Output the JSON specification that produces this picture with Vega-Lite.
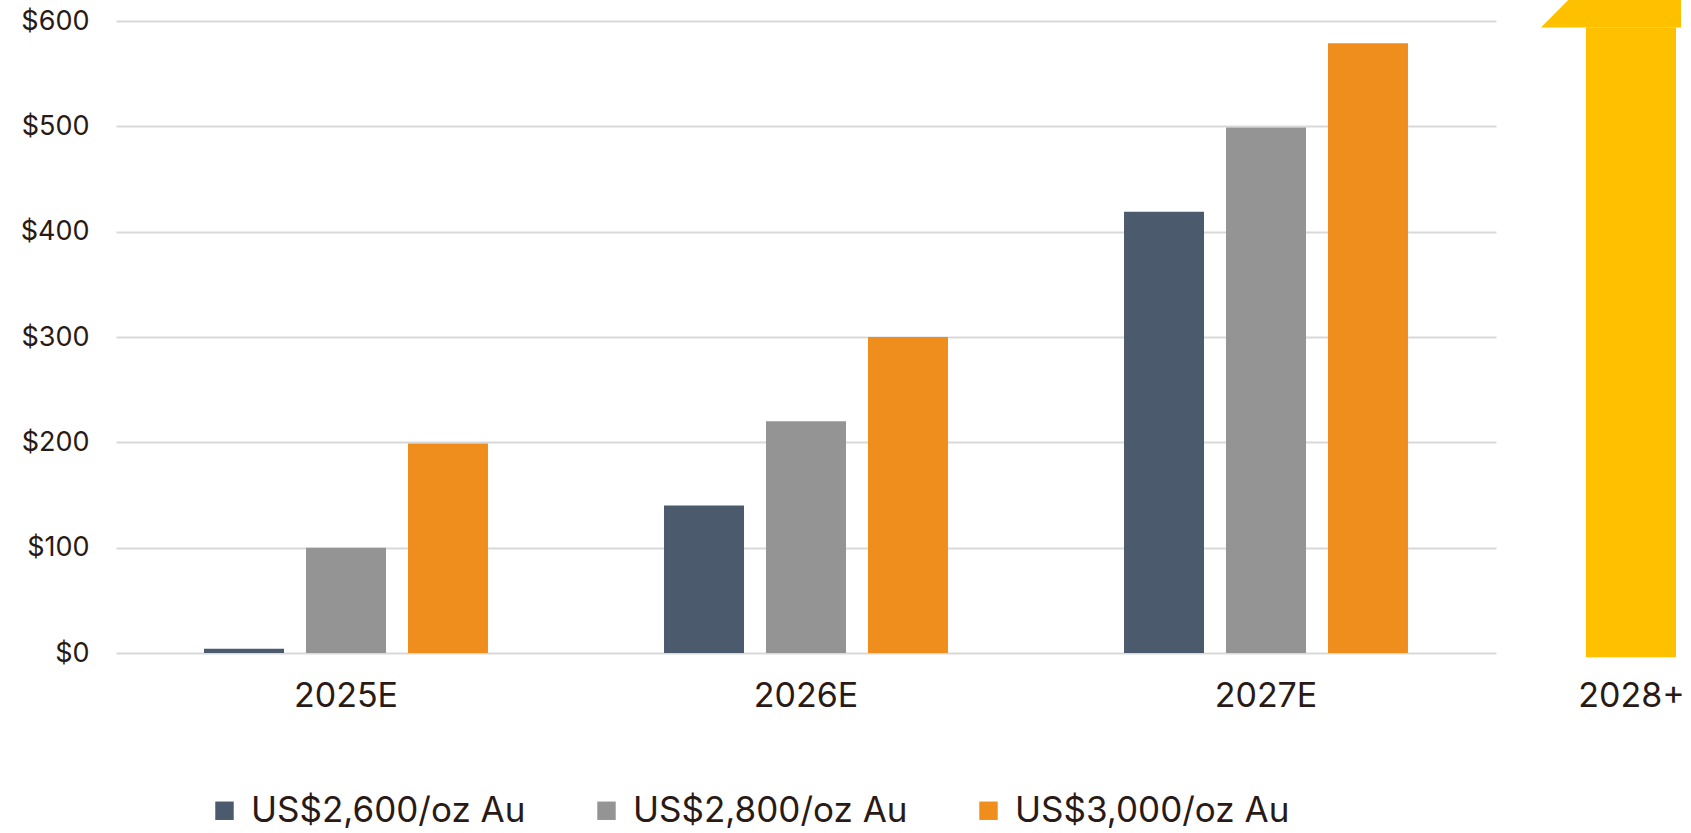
{
  "$schema": "https://vega.github.io/schema/vega-lite/v6.json",
  "padding": {"left": 20, "top": 0, "right": 0, "bottom": 0},
  "background": "white",
  "spacing": 0,
  "config": {"font": "Inter", "view": {"stroke": null}},
  "hconcat": [
    {
      "width": 1380,
      "height": 653,
      "data": {"values": [
        {"year": "2025E", "price": "US$2,600/oz Au", "value": 4},
        {"year": "2025E", "price": "US$2,800/oz Au", "value": 100},
        {"year": "2025E", "price": "US$3,000/oz Au", "value": 199},
        {"year": "2026E", "price": "US$2,600/oz Au", "value": 140},
        {"year": "2026E", "price": "US$2,800/oz Au", "value": 220},
        {"year": "2026E", "price": "US$3,000/oz Au", "value": 300},
        {"year": "2027E", "price": "US$2,600/oz Au", "value": 419},
        {"year": "2027E", "price": "US$2,800/oz Au", "value": 499},
        {"year": "2027E", "price": "US$3,000/oz Au", "value": 579}
      ]},
      "mark": {"type": "bar"},
      "encoding": {
        "x": {
          "field": "year", "type": "nominal", "title": null,
          "scale": {"paddingInner": 0, "paddingOuter": 0},
          "axis": {"labelAngle": 0, "domain": false, "ticks": false, "labelPadding": 26, "labelFontSize": 34, "labelColor": "#2a1a15", "labelFont": "Inter"}
        },
        "xOffset": {
          "field": "price", "type": "nominal",
          "scale": {"paddingInner": 0.2157, "paddingOuter": 0.863}
        },
        "y": {
          "field": "value", "type": "quantitative", "title": null,
          "scale": {"domain": [0, 620], "nice": false, "zero": true},
          "axis": {"values": [0, 100, 200, 300, 400, 500, 600], "labelExpr": "'$' + datum.value", "domain": false, "ticks": false, "labelPadding": 27, "labelFontSize": 27, "labelColor": "#2a1a15", "gridColor": "#d9d9d9", "gridWidth": 2}
        },
        "color": {
          "field": "price", "type": "nominal",
          "scale": {"domain": ["US$2,600/oz Au", "US$2,800/oz Au", "US$3,000/oz Au"], "range": ["#4b5a6c", "#949494", "#f08e1d"]},
          "legend": {"orient": "none", "legendX": 91, "legendY": 793, "direction": "horizontal", "title": null, "symbolType": "square", "symbolSize": 340, "symbolOpacity": 1, "symbolStrokeWidth": 0, "labelFontSize": 35, "labelColor": "#2a1a15", "columnPadding": 63, "labelOffset": 9, "labelLimit": 400}
        }
      }
    },
    {
      "width": 185,
      "height": 653,
      "layer": [
        {
          "data": {"values": [
            {"px": 24.3, "top": 594, "base": 594},
            {"px": 73, "top": 680, "base": 594},
            {"px": 121.6, "top": 594, "base": 594}
          ]},
          "mark": {"type": "area", "color": "#ffc000", "clip": true},
          "encoding": {
            "x": {
              "field": "px", "type": "quantitative", "title": null,
              "scale": {"domain": [0, 100], "nice": false, "zero": false},
              "axis": {"values": [73], "labelExpr": "'2028+'", "grid": false, "domain": false, "ticks": false, "labelPadding": 26, "labelFontSize": 34, "labelColor": "#2a1a15"}
            },
            "y": {"field": "top", "type": "quantitative", "title": null, "scale": {"domain": [0, 620], "nice": false}, "axis": null},
            "y2": {"field": "base"}
          }
        },
        {
          "data": {"values": [{"x1": 48.6, "x2": 97.3, "y1": -4, "y2": 594}]},
          "mark": {"type": "bar", "color": "#ffc000"},
          "encoding": {
            "x": {"field": "x1", "type": "quantitative", "title": null},
            "x2": {"field": "x2"},
            "y": {"field": "y1", "type": "quantitative", "title": null},
            "y2": {"field": "y2"}
          }
        }
      ]
    }
  ]
}
